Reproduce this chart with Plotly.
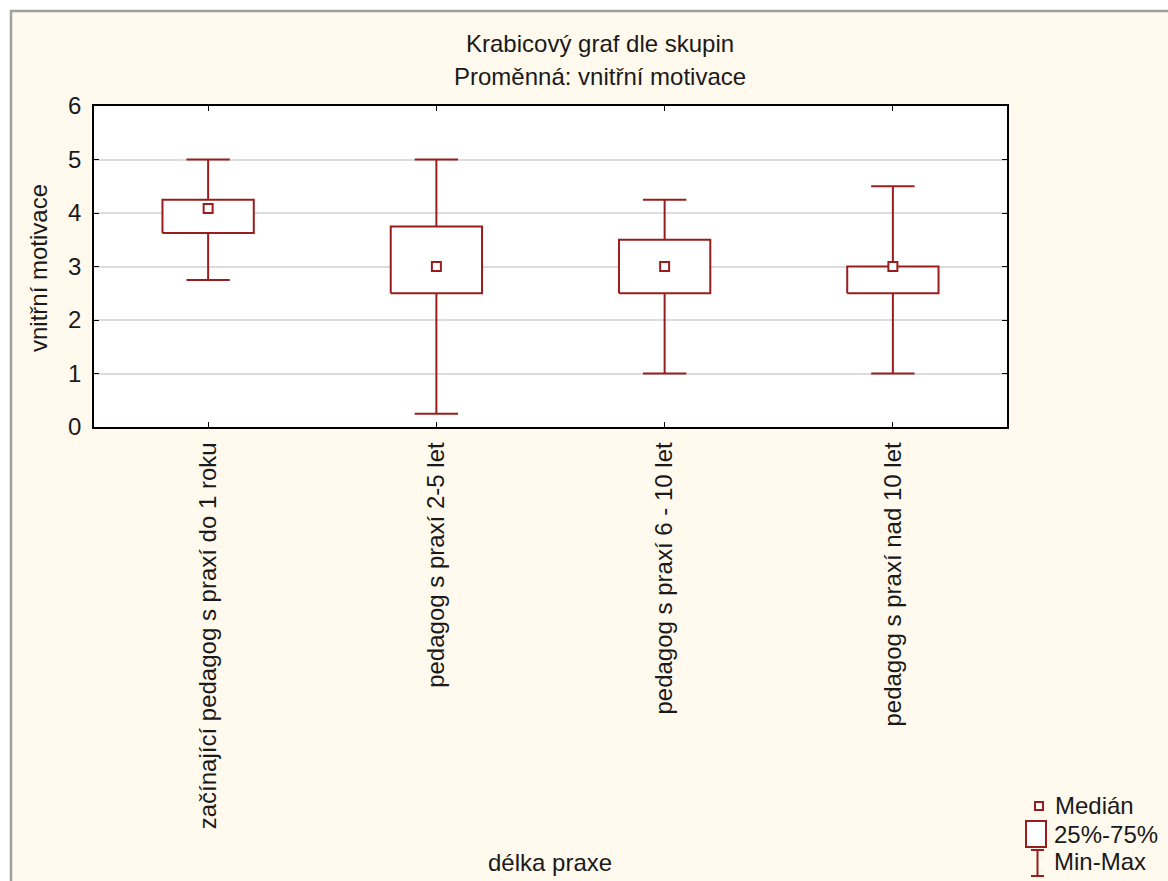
import plotly.graph_objects as go

categories = ["začínající pedagog s praxí do 1 roku", "pedagog s praxí 2-5 let",
              "pedagog s praxí 6 - 10 let", "pedagog s praxí nad 10 let"]
medians = [4.083, 3.0, 3.0, 3.0]
q1 = [3.625, 2.5, 2.5, 2.5]
q3 = [4.25, 3.75, 3.5, 3.0]
mins = [2.75, 0.25, 1.0, 1.0]
maxs = [5.0, 5.0, 4.25, 4.5]
y_ticks = [0, 1, 2, 3, 4, 5, 6]

W, H = 1168, 881
L, R, T, B = 94, 1007, 106, 427
RED = "#981E1E"
CREAM = "#FFF9EE"
FONT = "Liberation Sans, Arial, sans-serif"
FS = 24
TXT = "#1A1A1A"

def px(x):
    return (x - L) / (R - L)

def py(y):
    return (B - y) / (B - T)

BW = 0.2   # half box width
CW = 0.095  # half cap width

bx, by, wx, wy = [], [], [], []
for i in range(len(categories)):
    bx += [i - BW, i + BW, i + BW, i - BW, i - BW, None]
    by += [q1[i], q1[i], q3[i], q3[i], q1[i], None]
    wx += [i, i, None, i, i, None, i - CW, i + CW, None, i - CW, i + CW, None]
    wy += [q3[i], maxs[i], None, q1[i], mins[i], None, maxs[i], maxs[i], None, mins[i], mins[i], None]

fig = go.Figure()
fig.add_trace(go.Scatter(x=wx, y=wy, mode="lines", line=dict(color=RED, width=2),
                         hoverinfo="skip", showlegend=False))
fig.add_trace(go.Scatter(x=bx, y=by, mode="lines", line=dict(color=RED, width=2),
                         fill="toself", fillcolor="white", hoverinfo="skip", showlegend=False))
fig.add_trace(go.Scatter(x=list(range(len(categories))), y=medians, mode="markers",
                         marker=dict(symbol="square", size=9, color="white",
                                     line=dict(color=RED, width=2)),
                         showlegend=False))

shapes = [
    dict(type="rect", xref="paper", yref="paper", x0=px(11), x1=px(1180), y0=py(11), y1=py(895),
         fillcolor=CREAM, line=dict(color="#A0A0A0", width=2.5), layer="below"),
    dict(type="rect", xref="paper", yref="paper", x0=0, x1=1, y0=0, y1=1,
         fillcolor="white", line=dict(width=0), layer="below"),
    # legend symbols
    dict(type="rect", xref="paper", yref="paper", x0=px(1035), x1=px(1043), y0=py(810), y1=py(802),
         fillcolor="white", line=dict(color=RED, width=2)),
    dict(type="rect", xref="paper", yref="paper", x0=px(1026), x1=px(1046), y0=py(847), y1=py(821),
         fillcolor="white", line=dict(color=RED, width=2)),
    dict(type="line", xref="paper", yref="paper", x0=px(1037.5), x1=px(1037.5), y0=py(850), y1=py(876),
         line=dict(color=RED, width=2)),
    dict(type="line", xref="paper", yref="paper", x0=px(1031), x1=px(1044), y0=py(850), y1=py(850),
         line=dict(color=RED, width=2)),
    dict(type="line", xref="paper", yref="paper", x0=px(1031), x1=px(1044), y0=py(876), y1=py(876),
         line=dict(color=RED, width=2)),
]

def ann(text, x, y, size=FS, xanchor="center", angle=0):
    return dict(text=text, xref="paper", yref="paper", x=px(x), y=py(y), showarrow=False,
                xanchor=xanchor, yanchor="middle", textangle=angle,
                font=dict(family=FONT, size=size, color=TXT))

annotations = [
    ann("Krabicový graf dle skupin", 600, 44),
    ann("Proměnná: vnitřní motivace", 600, 76),
    ann("vnitřní motivace", 38, 268, angle=-90),
    ann("délka praxe", 550, 863),
    ann("Medián", 1053, 805, xanchor="left"),
    ann("25%-75%", 1052, 834, xanchor="left"),
    ann("Min-Max", 1052, 862, xanchor="left"),
]

fig.update_layout(
    width=W, height=H,
    margin=dict(l=L, r=W - R, t=T, b=H - B),
    paper_bgcolor="white", plot_bgcolor="white",
    font=dict(family=FONT, size=FS, color=TXT),
    shapes=shapes, annotations=annotations, showlegend=False,
)
fig.update_xaxes(range=[-0.5, 3.5], tickvals=list(range(len(categories))), ticktext=categories,
                 tickangle=-90, ticks="inside", ticklen=5, tickcolor="black",
                 showline=True, linecolor="black", linewidth=1.5, mirror="ticks",
                 showgrid=False, zeroline=False, ticklabelstandoff=4,
                 tickfont=dict(family=FONT, size=FS, color=TXT))
fig.update_yaxes(range=[0, 6], tickvals=y_ticks, ticks="inside", ticklen=5, tickcolor="black",
                 showline=True, linecolor="black", linewidth=1.5, mirror="ticks",
                 showgrid=True, gridcolor="#DCDCDC", gridwidth=2, zeroline=False,
                 ticklabelstandoff=6,
                 tickfont=dict(family=FONT, size=FS, color=TXT))

fig.write_html("out.html", config={"displayModeBar": False},
               post_script="document.body.style.margin='0';")
